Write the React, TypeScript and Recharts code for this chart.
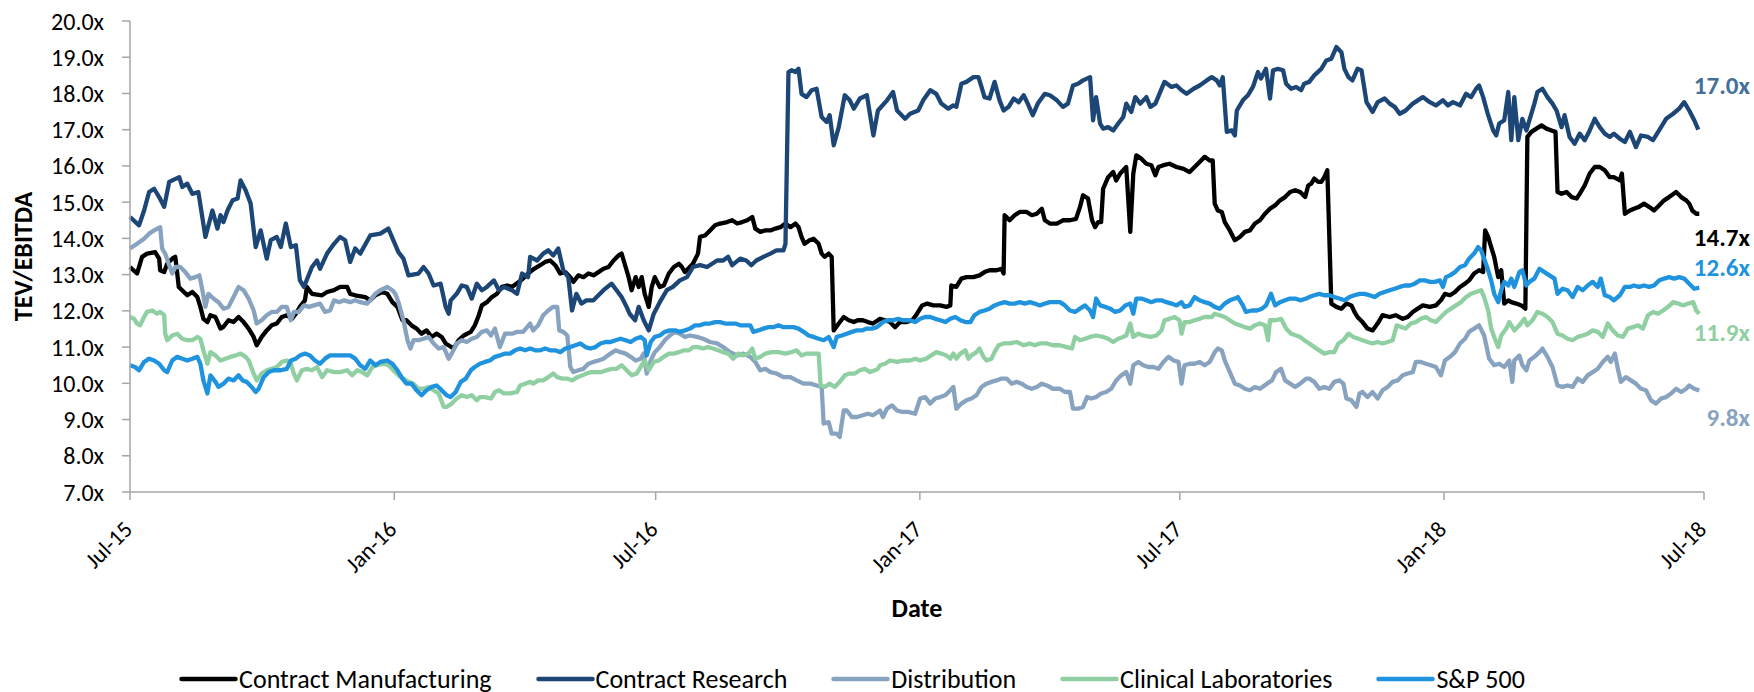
import React from 'react';
import { LineChart, Line, XAxis, YAxis, Legend, ReferenceDot, Label } from 'recharts';

// x = weeks since 1 Jul 2015, y = TEV/EBITDA multiple
type Pt = [number, number];

const contractManufacturing: Pt[] = [
  [0, 13.21], [0.7, 13.03], [1.2, 13.49], [1.7, 13.58], [2.5, 13.62], [2.9, 13.44], [3.0, 13.12], [3.4, 13.07], [3.7, 13.3],
  [4.2, 13.44], [4.5, 13.49], [4.7, 13.03], [4.85, 12.66], [5.7, 12.43], [6.2, 12.52], [6.7, 12.38], [7.0, 12.11], [7.3, 11.78],
  [7.7, 11.69], [8.0, 11.88], [8.5, 11.83], [9.0, 11.51], [9.3, 11.56], [9.8, 11.74], [10.3, 11.69], [10.8, 11.83], [11.3, 11.69],
  [11.8, 11.51], [12.3, 11.28], [12.6, 11.05], [13.1, 11.28], [13.6, 11.46], [14.1, 11.6], [14.6, 11.65], [15.1, 11.83],
  [15.6, 11.88], [16.1, 11.78], [16.5, 11.92], [16.9, 12.11], [17.4, 12.29], [17.6, 12.66], [18.1, 12.47], [19.1, 12.43],
  [19.6, 12.52], [20.3, 12.57], [20.9, 12.66], [21.6, 12.66], [21.9, 12.47], [22.4, 12.43], [23.4, 12.38], [23.9, 12.29],
  [24.4, 12.43], [25.1, 12.52], [25.6, 12.47], [26.1, 12.24], [26.6, 12.11], [27.1, 11.74], [27.5, 11.74], [28.0, 11.6],
  [28.5, 11.51], [29.0, 11.37], [29.5, 11.46], [30.0, 11.28], [30.5, 11.37], [31.0, 11.28],
  [31.4, 11.1], [32.2, 10.96], [32.7, 11.19], [33.2, 11.32], [33.9, 11.42], [34.3, 11.6], [34.7, 11.88], [35.0, 12.15],
  [35.5, 12.24], [36.0, 12.38], [36.5, 12.47], [37.0, 12.66], [37.5, 12.7], [38.0, 12.66], [38.7, 12.8], [39.1, 12.89],
  [39.6, 13.03], [40.2, 13.16], [40.8, 13.26], [41.3, 13.35], [41.8, 13.39], [42.3, 13.26], [42.8, 13.03], [43.3, 13.07],
  [43.8, 12.93], [44.1, 12.8], [44.6, 12.98], [45.1, 12.93], [45.6, 13.03], [46.1, 12.98], [46.6, 13.07], [47.1, 13.16],
  [47.6, 13.21], [48.1, 13.39], [48.6, 13.53], [48.9, 13.58], [49.3, 13.21], [49.6, 12.93], [49.9, 12.57], [50.3, 12.93],
  [50.6, 12.66], [50.9, 12.93], [51.2, 12.47], [51.6, 12.11], [51.9, 12.66], [52.2, 12.93], [52.7, 12.66], [53.1, 12.7],
  [53.6, 13.03], [54.1, 13.21], [54.6, 13.3], [54.9, 13.21], [55.2, 13.07], [56.0, 13.3], [56.5, 13.58], [56.7, 14.04],
  [57.2, 14.08], [57.7, 14.22], [58.2, 14.36], [58.7, 14.41], [59.4, 14.45], [59.9, 14.5], [60.4, 14.41], [60.9, 14.45],
  [61.4, 14.5], [61.9, 14.59], [62.2, 14.27], [62.7, 14.18], [63.2, 14.22], [63.7, 14.22], [64.2, 14.27], [64.7, 14.31],
  [65.2, 14.41], [65.7, 14.31], [66.2, 14.41], [66.5, 14.31], [66.8, 14.04], [67.1, 13.85], [67.6, 13.95], [68.0, 13.99],
  [68.5, 13.85], [68.8, 13.58], [69.1, 13.49], [69.5, 13.58], [69.8, 13.49], [70.0, 11.46], [70.5, 11.65], [71.0, 11.83],
  [71.5, 11.74], [72.0, 11.69], [72.4, 11.74], [72.9, 11.74], [73.4, 11.69], [73.9, 11.65], [74.4, 11.74],
  [74.6, 11.78], [75.1, 11.74], [75.6, 11.69], [76.1, 11.55], [76.6, 11.69], [77.2, 11.69], [77.8, 11.74], [78.2, 11.88],
  [78.8, 12.15], [79.3, 12.2], [79.9, 12.15], [80.6, 12.15], [81.2, 12.11], [81.6, 12.15], [81.7, 12.7], [82.2, 12.66],
  [82.7, 12.89], [83.2, 12.93], [83.9, 12.93], [84.5, 12.98], [85.0, 13.07], [85.5, 13.12], [86.2, 13.12], [86.7, 13.16],
  [86.9, 13.03], [87.0, 14.64], [87.5, 14.5], [88.0, 14.64], [88.5, 14.73], [89.2, 14.73], [89.7, 14.64], [90.2, 14.68],
  [90.7, 14.82], [91.0, 14.5], [91.5, 14.41], [92.2, 14.41], [92.8, 14.5], [93.5, 14.5], [94.1, 14.54], [94.5, 14.87],
  [94.8, 15.19], [95.3, 15.1], [95.7, 14.5], [96.0, 14.31], [96.3, 14.45], [96.6, 14.45], [96.8, 15.37], [97.3, 15.69],
  [97.8, 15.83], [98.1, 15.6], [98.5, 15.79], [99.1, 15.97], [99.5, 14.18], [99.8, 15.79], [100.1, 16.29], [100.6, 16.2],
  [101.1, 16.06], [101.6, 16.02], [102.0, 15.74], [102.3, 15.97], [102.8, 16.02], [103.4, 16.06], [104.1, 15.97],
  [104.8, 15.92], [105.4, 15.83], [105.9, 15.97], [106.4, 16.11], [106.9, 16.25], [107.4, 16.15], [107.7, 16.15],
  [107.9, 14.96], [108.2, 14.77], [108.6, 14.73], [108.9, 14.45], [109.4, 14.22], [109.9, 13.95], [110.4, 14.04],
  [110.9, 14.18], [111.4, 14.22], [111.9, 14.41], [112.4, 14.5], [112.9, 14.68], [113.4, 14.82], [113.9, 14.91],
  [114.4, 15.05], [114.9, 15.14], [115.4, 15.28], [115.9, 15.33], [116.4, 15.28], [116.9, 15.14], [117.2, 15.46],
  [117.5, 15.51], [117.8, 15.65], [118.2, 15.56], [118.5, 15.56], [118.8, 15.69], [119.1, 15.88], [119.5, 12.2],
  [120.0, 12.11], [120.5, 12.06], [121.0, 12.2], [121.5, 12.15], [121.8, 11.97], [122.1, 11.83], [122.6, 11.69],
  [123.1, 11.51], [123.6, 11.46], [124.1, 11.65], [124.6, 11.88], [125.3, 11.83], [125.9, 11.88], [126.6, 11.78],
  [127.1, 11.83], [127.6, 11.97], [128.1, 12.06], [128.6, 12.15], [129.3, 12.11], [129.9, 12.15], [130.4, 12.29],
  [130.8, 12.47], [131.3, 12.43], [131.8, 12.52], [132.3, 12.66], [132.8, 12.75], [133.2, 12.84], [133.7, 13.03],
  [134.2, 13.12], [134.6, 13.07], [134.8, 14.22], [135.1, 14.04], [135.4, 13.76], [135.7, 13.49], [136.1, 12.93],
  [136.4, 13.12], [136.7, 12.2], [137.1, 12.29], [137.4, 12.24], [137.9, 12.2], [138.4, 12.15], [138.8, 12.06],
  [139.0, 16.8], [139.4, 16.94], [139.9, 17.03], [140.4, 17.12], [140.9, 17.03], [141.4, 16.98], [141.8, 16.94],
  [142.0, 15.28], [142.4, 15.23], [142.9, 15.28], [143.4, 15.14], [143.9, 15.1], [144.2, 15.23], [144.7, 15.46],
  [145.2, 15.79], [145.7, 15.97], [146.2, 15.97], [146.7, 15.88], [147.2, 15.69], [147.6, 15.69], [148.2, 15.6],
  [148.4, 15.79], [148.7, 14.68], [149.2, 14.77], [149.6, 14.82], [150.1, 14.87], [150.6, 14.96], [151.1, 14.87],
  [151.6, 14.77], [152.1, 14.91], [152.6, 15.05], [153.1, 15.14], [153.8, 15.28], [154.3, 15.14], [154.8, 15.05],
  [155.1, 14.96], [155.4, 14.77], [155.8, 14.68], [156.1, 14.68],
];

const contractResearch: Pt[] = [
  [0, 14.59], [0.9, 14.36], [1.4, 14.77], [1.9, 15.28], [2.4, 15.37], [2.9, 15.14], [3.4, 14.87], [3.9, 15.56], [4.9, 15.69],
  [5.2, 15.42], [5.7, 15.51], [6.2, 15.23], [6.8, 15.28], [7.5, 14.04], [8.2, 14.77], [8.7, 14.27], [9.0, 14.64], [9.3, 14.45],
  [9.7, 14.77], [10.2, 15.05], [10.7, 15.1], [11.0, 15.6], [11.5, 15.33], [12.0, 14.96], [12.5, 13.76], [13.0, 14.22],
  [13.6, 13.44], [14.0, 13.95], [14.6, 14.04], [15.0, 13.76], [15.5, 14.41], [16.0, 13.76], [16.5, 13.81], [16.9, 12.84],
  [17.3, 12.66], [18.1, 13.21], [18.6, 13.39], [18.9, 13.16], [19.6, 13.58], [20.3, 13.85], [20.9, 14.04], [21.4, 13.95],
  [21.9, 13.35], [22.4, 13.72], [22.9, 13.58], [23.9, 14.08], [24.9, 14.13], [25.7, 14.27], [26.7, 13.62], [27.2, 13.44],
  [27.7, 12.98], [28.7, 13.03], [29.2, 13.21], [29.7, 13.03], [30.2, 12.7], [30.9, 12.75], [31.4, 12.11], [31.7, 11.92],
  [31.9, 12.29], [32.5, 12.47], [33.0, 12.7], [33.5, 12.66], [34.0, 12.34], [34.5, 12.75], [35.0, 12.57], [35.5, 12.66],
  [36.2, 12.84], [36.7, 12.57], [37.2, 12.66], [38.0, 12.57], [38.5, 12.47], [39.0, 13.03], [39.6, 12.93], [39.8, 13.49],
  [40.5, 13.39], [41.1, 13.58], [41.6, 13.67], [42.1, 13.53], [42.6, 13.72], [43.1, 13.12], [43.6, 12.93], [43.97, 12.01],
  [44.4, 12.47], [44.9, 12.2], [45.4, 12.29], [46.1, 12.29], [46.6, 12.43], [47.1, 12.57], [47.9, 12.75], [48.4, 12.57],
  [48.9, 12.38], [49.4, 12.11], [49.7, 11.92], [50.25, 11.74], [50.6, 12.11], [51.1, 11.74], [51.6, 11.46], [52.1, 11.92],
  [52.7, 12.24], [53.4, 12.57], [54.0, 12.66], [54.7, 12.84], [55.4, 12.93], [56.0, 13.21], [56.7, 13.26], [57.4, 13.21],
  [57.9, 13.3], [58.4, 13.39], [59.0, 13.39], [59.5, 13.49], [59.9, 13.26], [60.7, 13.44], [61.3, 13.39], [61.8, 13.26],
  [62.3, 13.39], [63.0, 13.49], [63.7, 13.58], [64.3, 13.67], [65.0, 13.67], [65.2, 13.85], [65.5, 18.59], [65.8, 18.64],
  [66.2, 18.59], [66.5, 18.68], [66.8, 17.99], [67.3, 17.9], [67.8, 18.09], [68.3, 18.13], [68.8, 17.35], [69.3, 17.21],
  [69.6, 17.4], [70.0, 16.57], [70.5, 17.07], [71.1, 17.95], [71.6, 17.81], [72.0, 17.58], [72.6, 17.86],
  [73.3, 17.95], [73.95, 16.84], [74.4, 17.53], [75.3, 17.81], [75.9, 18.04], [76.3, 17.53], [77.1, 17.3], [77.6, 17.44],
  [78.4, 17.53], [78.9, 17.81], [79.6, 18.09], [80.2, 17.99], [80.7, 17.72], [81.4, 17.58], [81.9, 17.67], [82.2, 17.63],
  [82.7, 18.27], [83.2, 18.32], [83.9, 18.45], [84.4, 18.45], [84.7, 18.18], [85.0, 17.9], [85.5, 17.86], [86.0, 18.32],
  [86.5, 17.81], [86.9, 17.53], [87.4, 17.63], [87.9, 17.86], [88.4, 17.76], [88.9, 17.95], [89.3, 17.72], [89.8, 17.4],
  [90.3, 17.72], [91.0, 17.99], [91.5, 17.95], [92.2, 17.81], [92.8, 17.63], [93.3, 17.72], [93.8, 18.22], [94.3, 18.27],
  [94.8, 18.36], [95.5, 18.45], [95.8, 17.26], [96.1, 17.9], [96.5, 17.17], [96.8, 17.03], [97.3, 17.07], [97.8, 16.98],
  [98.3, 17.17], [98.8, 17.35], [99.1, 17.72], [99.6, 17.49], [100.0, 17.9], [100.5, 17.72], [101.1, 17.9], [101.5, 17.63],
  [102.0, 17.72], [102.4, 17.99], [102.9, 18.32], [103.6, 18.18], [104.1, 18.22], [104.6, 18.09], [105.1, 17.99],
  [105.8, 18.13], [106.4, 18.22], [107.1, 18.36], [107.6, 18.45], [108.1, 18.36], [108.4, 18.22], [108.7, 18.45],
  [109.1, 16.94], [109.6, 16.98], [109.9, 16.84], [110.1, 17.53], [110.7, 17.81], [111.2, 17.95], [111.7, 18.18],
  [112.2, 18.59], [112.5, 18.41], [113.0, 18.68], [113.4, 17.86], [113.7, 18.64], [114.2, 18.68], [114.7, 18.64],
  [115.0, 18.27], [115.5, 18.13], [116.0, 18.18], [116.5, 18.09], [116.8, 18.27], [117.3, 18.32], [117.8, 18.5],
  [118.5, 18.68], [119.0, 18.91], [119.5, 18.96], [120.0, 19.28], [120.5, 19.14], [120.8, 18.68], [121.2, 18.45],
  [121.6, 18.36], [122.1, 18.68], [122.5, 18.64], [123.0, 17.76], [123.6, 17.49], [124.1, 17.76], [124.8, 17.86],
  [125.3, 17.72], [125.8, 17.63], [126.3, 17.44], [126.9, 17.53], [127.6, 17.72], [128.1, 17.81], [128.6, 17.9],
  [129.3, 17.76], [129.9, 17.67], [130.6, 17.81], [131.1, 17.67], [131.6, 17.76], [132.3, 17.67], [132.9, 17.99],
  [133.4, 17.9], [133.9, 18.13], [134.2, 18.22], [134.6, 17.9], [135.1, 17.4], [135.6, 16.98], [135.9, 16.84],
  [136.2, 17.17], [136.7, 17.26], [137.1, 18.04], [137.4, 16.71], [137.7, 17.9], [138.1, 16.71], [138.5, 17.3],
  [138.9, 16.98], [139.2, 17.26], [139.7, 17.72], [140.0, 18.04], [140.5, 18.13], [141.0, 17.9], [141.5, 17.72],
  [141.9, 17.53], [142.4, 17.07], [142.7, 17.4], [143.2, 16.8], [143.7, 16.61], [144.2, 16.89], [144.7, 16.71],
  [145.2, 16.98], [145.7, 17.3], [146.2, 17.07], [146.7, 16.89], [147.2, 16.8], [147.6, 16.89], [148.2, 16.75],
  [148.7, 16.66], [149.2, 16.94], [149.8, 16.52], [150.3, 16.84], [151.0, 16.8], [151.5, 16.71], [152.1, 16.98],
  [152.8, 17.3], [153.5, 17.44], [154.1, 17.58], [154.6, 17.76], [155.1, 17.53], [155.6, 17.26], [156.0, 17.0],
];

const distribution: Pt[] = [
  [0, 13.72], [0.7, 13.85], [1.4, 13.99], [1.9, 14.13], [2.4, 14.22], [3.0, 14.31], [3.2, 13.72], [3.5, 13.58], [3.9, 13.26],
  [4.2, 13.03], [4.5, 13.21], [5.0, 13.21], [5.5, 13.07], [6.0, 12.89], [6.5, 12.93], [6.9, 12.98], [7.2, 12.57], [7.5, 12.11],
  [7.8, 12.47], [8.3, 12.34], [8.8, 12.24], [9.3, 12.06], [9.8, 12.11], [10.3, 12.38], [10.8, 12.66], [11.3, 12.57],
  [11.8, 12.34], [12.3, 12.01], [12.6, 11.65], [13.1, 11.74], [13.6, 11.88], [14.1, 11.97], [14.6, 11.97], [15.1, 12.11],
  [15.6, 12.11], [16.0, 11.74], [16.3, 11.97], [16.8, 11.97], [17.3, 12.15], [17.8, 12.11], [18.3, 12.15], [18.9, 12.2],
  [19.4, 11.97], [19.9, 12.01], [20.3, 12.29], [20.8, 12.24], [21.3, 12.29], [21.9, 12.24], [22.4, 12.29], [22.9, 12.24],
  [23.6, 12.2], [23.9, 12.29], [24.4, 12.47], [24.9, 12.57], [25.6, 12.66], [26.1, 12.57], [26.4, 12.47], [26.7, 12.24],
  [27.2, 11.74], [27.6, 11.19], [27.9, 10.96], [28.2, 11.19], [28.7, 11.19], [29.2, 11.23], [29.7, 11.28], [30.2, 11.1],
  [30.7, 10.96], [31.2, 11.0], [31.7, 10.68],
  [32.0, 10.82], [32.5, 11.1], [33.0, 11.19], [33.5, 11.14], [34.0, 11.23], [34.5, 11.28], [35.0, 11.42], [35.5, 11.46],
  [35.9, 11.32], [36.3, 11.51], [36.8, 11.0], [37.3, 11.37], [38.0, 11.37], [38.5, 11.42], [39.1, 11.42], [39.8, 11.65],
  [40.1, 11.46], [40.6, 11.6], [41.1, 11.88], [41.6, 12.01], [42.1, 12.11], [42.5, 12.11], [42.7, 11.46], [43.1, 11.42],
  [43.5, 11.32], [43.8, 10.45], [44.1, 10.31], [44.6, 10.36], [45.1, 10.4], [45.6, 10.54], [46.1, 10.59], [46.6, 10.63],
  [47.1, 10.68], [47.8, 10.82], [48.3, 10.91], [48.8, 10.86], [49.3, 10.82], [49.8, 10.73], [50.3, 10.63], [50.8, 10.68],
  [51.1, 10.82], [51.4, 10.27], [51.8, 10.63], [52.2, 10.86], [52.7, 11.0], [53.2, 11.19], [53.7, 11.32], [54.2, 11.42],
  [54.7, 11.37], [55.2, 11.28], [55.7, 11.32], [56.4, 11.28], [57.0, 11.23], [57.7, 11.14], [58.4, 11.1], [59.0, 11.0],
  [59.7, 10.86], [60.4, 10.77], [61.0, 10.82], [61.7, 10.73], [62.2, 10.59], [62.7, 10.36], [63.2, 10.4], [63.7, 10.31],
  [64.3, 10.27], [65.0, 10.17], [65.7, 10.17], [66.3, 10.08], [67.0, 9.99], [67.7, 9.99], [68.3, 9.94], [68.8, 9.9],
  [69.0, 8.89], [69.5, 8.93], [69.8, 8.61], [70.3, 8.61], [70.6, 8.52], [71.0, 9.25], [71.3, 9.25], [71.8, 9.07],
  [72.3, 9.07], [72.9, 9.12], [73.4, 9.16], [73.9, 9.12], [74.4, 9.21],
  [74.6, 9.25], [74.9, 9.07], [75.3, 9.3], [75.8, 9.39], [76.3, 9.25], [76.8, 9.21], [77.4, 9.21], [78.1, 9.16], [78.6, 9.58],
  [79.1, 9.62], [79.6, 9.44], [80.1, 9.58], [80.6, 9.62], [81.1, 9.67], [81.6, 9.81], [81.9, 9.9], [82.2, 9.3], [82.7, 9.44],
  [83.2, 9.53], [83.7, 9.58], [84.2, 9.67], [84.7, 9.9], [85.2, 9.99], [85.7, 10.04], [86.2, 10.08], [86.7, 10.13],
  [87.2, 10.13], [87.7, 9.99], [88.2, 10.04], [88.7, 9.99], [89.2, 9.9], [89.7, 9.85], [90.2, 9.9], [90.7, 9.99],
  [91.2, 9.94], [91.8, 9.85], [92.5, 9.85], [93.0, 9.76], [93.5, 9.76], [93.8, 9.3], [94.3, 9.3], [94.8, 9.35], [95.2, 9.62],
  [95.6, 9.58], [96.1, 9.62], [96.6, 9.72], [97.1, 9.76], [97.6, 9.85], [98.1, 10.08], [98.6, 10.22], [99.1, 10.31],
  [99.5, 9.99], [99.8, 10.5], [100.3, 10.59], [100.8, 10.5], [101.3, 10.45], [101.8, 10.45], [102.3, 10.4], [102.8, 10.59],
  [103.3, 10.73], [103.8, 10.63], [104.3, 10.59], [104.6, 9.99], [104.9, 10.5], [105.4, 10.54], [105.9, 10.54],
  [106.4, 10.59], [106.9, 10.5], [107.4, 10.59], [107.9, 10.86], [108.2, 10.96], [108.6, 10.91], [108.9, 10.63],
  [109.4, 10.31], [109.9, 9.99], [110.4, 9.94], [110.9, 9.85], [111.4, 9.81], [111.9, 9.9], [112.4, 9.85], [113.1, 9.99],
  [113.6, 10.08], [114.0, 10.31], [114.5, 10.4], [114.9, 10.08], [115.4, 9.99], [115.9, 9.9], [116.4, 9.99], [117.0, 10.13],
  [117.3, 10.13], [117.8, 10.04], [118.3, 9.85], [118.8, 9.9], [119.3, 9.85], [119.8, 10.04], [120.3, 10.08], [120.7, 9.99],
  [121.0, 9.58], [121.5, 9.53], [122.0, 9.35], [122.3, 9.72], [122.6, 9.76], [123.1, 9.62], [123.6, 9.76], [124.1, 9.58],
  [124.6, 9.81], [125.1, 9.9], [125.6, 10.04], [126.1, 10.08], [126.6, 10.22], [127.1, 10.27], [127.6, 10.31],
  [127.9, 10.59], [128.4, 10.59], [128.9, 10.54], [129.4, 10.5], [129.9, 10.45], [130.4, 10.22], [130.8, 10.63],
  [131.3, 10.73], [131.8, 10.86], [132.3, 11.1], [132.8, 11.23], [133.2, 11.42], [133.7, 11.51], [134.2, 11.6],
  [134.7, 11.32], [135.2, 10.68], [135.7, 10.5], [136.2, 10.54], [136.7, 10.45], [137.2, 10.63], [137.5, 10.04],
  [137.7, 10.63], [138.2, 10.77], [138.5, 10.5], [138.9, 10.36], [139.2, 10.63], [139.7, 10.73], [140.2, 10.86],
  [140.5, 10.96], [141.0, 10.73], [141.5, 10.45], [142.0, 9.94], [142.5, 9.9], [143.0, 9.94], [143.5, 9.9], [144.0, 10.13],
  [144.5, 10.04], [145.0, 10.22], [145.5, 10.31], [146.0, 10.4], [146.5, 10.59], [147.0, 10.73], [147.3, 10.59],
  [147.7, 10.82], [148.0, 10.4], [148.3, 10.04], [148.8, 10.17], [149.3, 10.08], [149.8, 9.99], [150.3, 9.85],
  [150.8, 9.81], [151.3, 9.53], [151.8, 9.44], [152.3, 9.58], [152.8, 9.62], [153.3, 9.72], [153.8, 9.85], [154.3, 9.76],
  [154.8, 9.85], [155.1, 9.94], [155.6, 9.85], [156.1, 9.8],
];

const clinicalLabs: Pt[] = [
  [0, 11.83], [0.4, 11.78], [0.7, 11.65], [1.0, 11.6], [1.4, 11.83], [1.7, 11.97], [2.2, 12.01], [2.7, 11.92], [3.0, 11.97],
  [3.4, 11.88], [3.5, 11.37], [3.7, 11.19], [4.2, 11.32], [4.7, 11.37], [5.2, 11.23], [5.7, 11.19], [6.2, 11.19], [6.7, 11.28],
  [7.0, 11.23], [7.3, 10.91], [7.7, 10.54], [8.0, 10.86], [8.5, 10.77], [9.0, 10.63], [9.5, 10.68], [10.0, 10.73],
  [10.5, 10.77], [11.0, 10.82], [11.5, 10.73], [11.8, 10.63], [12.3, 10.27], [12.6, 10.08], [13.1, 10.27], [13.6, 10.36],
  [14.1, 10.4], [14.6, 10.45], [15.1, 10.59], [15.6, 10.63], [16.0, 10.54], [16.3, 10.27], [16.6, 10.08], [17.1, 10.36],
  [17.6, 10.4], [18.1, 10.36], [18.6, 10.45], [19.1, 10.17], [19.6, 10.36], [20.3, 10.31], [20.9, 10.31], [21.6, 10.36],
  [22.1, 10.22], [22.6, 10.36], [23.1, 10.31], [23.6, 10.22], [24.1, 10.45], [24.6, 10.5], [25.2, 10.54], [25.7, 10.5],
  [26.2, 10.36], [26.7, 10.22], [27.2, 10.13], [27.7, 10.04], [28.2, 9.99], [28.7, 9.85], [29.2, 9.85], [29.7, 9.9],
  [30.2, 9.81], [30.7, 9.72], [31.2, 9.35],
  [31.5, 9.35], [32.0, 9.44], [32.5, 9.58], [33.0, 9.67], [33.5, 9.62], [34.0, 9.67], [34.5, 9.53], [34.8, 9.62], [35.3, 9.62],
  [35.9, 9.58], [36.3, 9.76], [36.7, 9.81], [37.2, 9.72], [37.8, 9.72], [38.5, 9.76], [38.8, 9.94], [39.3, 9.99], [39.8, 10.04],
  [40.1, 9.99], [40.6, 10.08], [41.1, 10.08], [41.6, 10.17], [42.1, 10.27], [42.5, 10.17], [43.0, 10.13], [43.5, 10.13],
  [44.0, 10.08], [44.5, 10.17], [45.0, 10.22], [45.4, 10.27], [45.9, 10.31], [46.4, 10.31], [46.9, 10.31], [47.4, 10.36],
  [47.9, 10.4], [48.4, 10.4], [48.9, 10.5], [49.4, 10.36], [49.9, 10.22], [50.4, 10.27], [50.9, 10.5], [51.2, 10.63],
  [51.6, 10.36], [52.1, 10.59], [52.6, 10.63], [53.1, 10.73], [53.6, 10.82], [54.1, 10.82], [54.6, 10.86], [55.1, 10.91],
  [55.6, 10.91], [56.0, 11.0], [56.5, 11.0], [57.0, 10.96], [57.5, 11.0], [58.0, 10.96], [58.5, 10.91], [59.0, 10.86],
  [59.5, 10.82], [60.0, 10.68], [60.5, 10.82], [61.0, 10.77], [61.5, 10.82], [61.9, 10.96], [62.2, 10.68], [62.7, 10.73],
  [63.2, 10.82], [63.8, 10.86], [64.5, 10.86], [65.2, 10.82], [65.8, 10.86], [66.3, 10.91], [66.8, 10.77], [67.3, 10.82],
  [67.8, 10.82], [68.5, 10.82], [68.7, 9.94], [69.1, 9.9], [69.6, 9.99], [70.1, 9.9], [70.6, 10.04], [71.1, 10.22],
  [71.6, 10.27], [72.1, 10.27], [72.6, 10.36], [73.1, 10.4], [73.6, 10.31], [74.1, 10.36], [74.4, 10.4],
  [74.6, 10.5], [75.1, 10.54], [75.6, 10.63], [76.3, 10.59], [76.9, 10.63], [77.6, 10.63], [78.1, 10.68], [78.6, 10.63],
  [79.2, 10.68], [79.7, 10.77], [80.2, 10.86], [80.7, 10.82], [81.2, 10.77], [81.6, 10.68], [81.9, 10.82], [82.2, 10.68],
  [82.6, 10.82], [83.1, 10.91], [83.4, 10.68], [83.7, 10.77], [84.2, 10.86], [84.5, 10.96], [84.9, 10.73], [85.2, 10.63],
  [85.7, 10.68], [86.0, 10.86], [86.4, 11.05], [86.9, 11.1], [87.5, 11.1], [88.2, 11.14], [88.9, 11.05], [89.5, 11.1],
  [90.0, 11.05], [90.5, 11.1], [91.2, 11.1], [91.8, 11.05], [92.5, 11.05], [93.2, 11.0], [93.7, 10.96], [94.0, 11.28],
  [94.5, 11.19], [95.0, 11.23], [95.5, 11.28], [96.1, 11.32], [96.8, 11.28], [97.3, 11.23], [97.8, 11.14], [98.3, 11.23],
  [98.8, 11.28], [99.1, 11.32], [99.5, 11.65], [99.8, 11.28], [100.3, 11.37], [100.8, 11.32], [101.5, 11.28],
  [102.1, 11.32], [102.6, 11.46], [102.9, 11.74], [103.4, 11.78], [103.9, 11.83], [104.4, 11.74], [104.6, 11.37],
  [104.9, 11.69], [105.4, 11.69], [105.9, 11.74], [106.4, 11.78], [106.9, 11.83], [107.6, 11.83], [107.9, 11.92],
  [108.4, 11.88], [108.9, 11.83], [109.4, 11.74], [109.9, 11.65], [110.4, 11.6], [110.9, 11.55], [111.4, 11.51],
  [111.9, 11.6], [112.4, 11.65], [112.9, 11.6], [113.2, 11.19], [113.4, 11.74], [114.0, 11.74], [114.5, 11.78],
  [115.0, 11.51], [115.5, 11.37], [116.0, 11.32], [116.4, 11.28], [116.8, 11.19], [117.3, 11.1], [117.8, 11.0],
  [118.3, 10.91], [118.8, 10.82], [119.3, 10.86], [119.8, 10.86], [120.2, 11.1], [120.7, 11.19], [121.2, 11.37],
  [121.7, 11.28], [122.2, 11.23], [122.6, 11.19], [123.1, 11.14], [123.6, 11.1], [124.1, 11.14], [124.6, 11.1],
  [125.1, 11.14], [125.6, 11.19], [126.0, 11.6], [126.5, 11.55], [126.9, 11.51], [127.4, 11.65], [127.9, 11.69],
  [128.4, 11.78], [128.9, 11.83], [129.4, 11.74], [129.9, 11.69], [130.4, 11.83], [130.9, 11.97], [131.4, 12.06],
  [131.9, 12.15], [132.4, 12.24], [132.9, 12.38], [133.4, 12.47], [133.9, 12.52], [134.4, 12.57], [134.7, 12.38],
  [135.1, 12.01], [135.4, 11.51], [135.7, 11.28], [136.1, 11.0], [136.4, 11.32], [136.9, 11.51], [137.2, 11.69],
  [137.7, 11.46], [138.2, 11.6], [138.7, 11.78], [139.0, 11.6], [139.5, 11.74], [140.0, 11.97], [140.5, 11.92],
  [141.0, 11.83], [141.5, 11.69], [142.0, 11.37], [142.5, 11.32], [143.0, 11.23], [143.5, 11.19], [144.0, 11.28],
  [144.5, 11.32], [145.0, 11.37], [145.5, 11.46], [146.0, 11.42], [146.5, 11.28], [147.0, 11.65], [147.5, 11.46],
  [148.0, 11.32], [148.5, 11.28], [149.0, 11.51], [149.5, 11.55], [150.0, 11.6], [150.5, 11.51], [151.0, 11.88],
  [151.5, 11.97], [152.0, 11.92], [152.5, 12.01], [153.0, 12.11], [153.5, 12.24], [154.0, 12.2], [154.5, 12.15],
  [155.0, 12.2], [155.5, 12.24], [155.8, 12.01], [156.1, 11.92],
];

const sp500: Pt[] = [
  [0, 10.5], [0.5, 10.45], [0.9, 10.36], [1.4, 10.59], [1.9, 10.68], [2.4, 10.63], [2.9, 10.54], [3.4, 10.36], [3.7, 10.31],
  [4.2, 10.63], [4.7, 10.73], [5.2, 10.68], [5.7, 10.63], [6.2, 10.68], [6.7, 10.73], [7.0, 10.54], [7.3, 10.08], [7.7, 9.72],
  [8.0, 10.22], [8.5, 10.04], [8.8, 9.9], [9.3, 9.99], [9.8, 10.13], [10.3, 10.08], [10.8, 10.22], [11.2, 10.08], [11.6, 10.04],
  [12.1, 9.9], [12.5, 9.76], [12.8, 9.85], [13.3, 10.17], [13.8, 10.31], [14.3, 10.36], [15.0, 10.36], [15.6, 10.4],
  [16.0, 10.63], [16.5, 10.68], [16.9, 10.77], [17.4, 10.82], [17.9, 10.77], [18.4, 10.63], [18.9, 10.54], [19.4, 10.68],
  [19.9, 10.77], [20.6, 10.77], [21.3, 10.77], [21.9, 10.77], [22.4, 10.68], [22.9, 10.5], [23.4, 10.4], [23.9, 10.63],
  [24.4, 10.5], [24.9, 10.59], [25.6, 10.63], [26.1, 10.54], [26.6, 10.36], [27.1, 10.13], [27.5, 9.99], [28.0, 9.99],
  [28.5, 9.81], [29.0, 9.67], [29.5, 9.81], [30.0, 9.9], [30.5, 9.94], [31.0, 9.81], [31.5, 9.67],
  [31.9, 9.62], [32.4, 9.76], [32.9, 10.04], [33.4, 10.13], [33.9, 10.36], [34.3, 10.45], [34.8, 10.54], [35.3, 10.59],
  [35.8, 10.63], [36.3, 10.73], [36.8, 10.77], [37.3, 10.82], [37.8, 10.82], [38.3, 10.91], [38.8, 10.96], [39.3, 10.91],
  [39.8, 10.96], [40.3, 10.91], [40.8, 10.91], [41.3, 10.96], [41.8, 10.91], [42.3, 10.91], [42.8, 10.86], [43.3, 10.96],
  [43.8, 11.0], [44.3, 11.05], [44.8, 11.1], [45.3, 11.0], [45.8, 10.96], [46.3, 11.0], [46.8, 11.1], [47.3, 11.14],
  [47.8, 11.14], [48.3, 11.19], [48.8, 11.23], [49.3, 11.19], [49.8, 11.14], [50.3, 11.23], [50.8, 11.28], [51.2, 11.19],
  [51.4, 10.77], [51.8, 11.14], [52.2, 11.28], [52.7, 11.32], [53.2, 11.42], [53.7, 11.46], [54.2, 11.46], [54.7, 11.42],
  [55.2, 11.46], [55.7, 11.51], [56.2, 11.6], [56.7, 11.6], [57.2, 11.65], [57.7, 11.65], [58.2, 11.69], [58.7, 11.69],
  [59.2, 11.65], [59.7, 11.65], [60.2, 11.65], [60.7, 11.6], [61.2, 11.6], [61.7, 11.6], [62.0, 11.42], [62.5, 11.46],
  [63.0, 11.51], [63.5, 11.55], [64.0, 11.55], [64.5, 11.6], [65.0, 11.55], [65.5, 11.55], [66.0, 11.55], [66.5, 11.51],
  [67.0, 11.42], [67.5, 11.32], [68.0, 11.28], [68.5, 11.23], [69.0, 11.19], [69.5, 11.28], [70.0, 11.0], [70.3, 11.28],
  [70.8, 11.32], [71.3, 11.37], [71.8, 11.42], [72.3, 11.46], [72.8, 11.46], [73.3, 11.51], [73.8, 11.51], [74.3, 11.55],
  [74.9, 11.69], [75.4, 11.74], [75.9, 11.74], [76.4, 11.78], [76.9, 11.74], [77.6, 11.74], [78.1, 11.69], [78.6, 11.78],
  [79.1, 11.83], [79.6, 11.83], [80.1, 11.78], [80.6, 11.74], [81.1, 11.69], [81.6, 11.78], [82.1, 11.83], [82.6, 11.74],
  [83.1, 11.69], [83.6, 11.69], [84.0, 11.88], [84.5, 11.97], [85.0, 12.01], [85.5, 12.06], [86.0, 12.15], [86.5, 12.2],
  [87.0, 12.24], [87.5, 12.2], [88.0, 12.2], [88.5, 12.24], [89.0, 12.2], [89.5, 12.24], [90.0, 12.2], [90.5, 12.15],
  [91.0, 12.2], [91.5, 12.24], [92.0, 12.24], [92.5, 12.24], [93.0, 12.15], [93.5, 12.01], [94.0, 11.97], [94.5, 12.06],
  [95.0, 12.15], [95.5, 12.01], [95.8, 11.83], [96.1, 12.34], [96.5, 12.15], [97.0, 12.11], [97.5, 12.06], [98.0, 11.97],
  [98.5, 12.01], [99.0, 12.15], [99.5, 12.2], [99.8, 11.92], [100.1, 12.34], [100.6, 12.34], [101.1, 12.29], [101.6, 12.24],
  [102.1, 12.29], [102.6, 12.29], [103.1, 12.24], [103.6, 12.2], [104.1, 12.15], [104.6, 12.24], [104.9, 12.11],
  [105.4, 12.15], [105.9, 12.38], [106.4, 12.29], [106.9, 12.24], [107.4, 12.2], [107.9, 12.11], [108.4, 12.06],
  [108.9, 12.2], [109.4, 12.29], [109.9, 12.34], [110.2, 12.38], [110.7, 12.15], [111.0, 11.97], [111.6, 12.01],
  [112.1, 12.01], [112.6, 12.06], [113.0, 12.15], [113.5, 12.47], [113.9, 12.15], [114.4, 12.24], [114.9, 12.29],
  [115.4, 12.34], [115.9, 12.34], [116.4, 12.29], [117.0, 12.34], [117.3, 12.38], [117.8, 12.43], [118.3, 12.47],
  [118.8, 12.43], [119.3, 12.43], [119.8, 12.38], [120.3, 12.34], [120.8, 12.29], [121.3, 12.38], [121.8, 12.43],
  [122.3, 12.47], [122.8, 12.47], [123.3, 12.43], [123.8, 12.38], [124.3, 12.47], [124.8, 12.52], [125.3, 12.57],
  [125.8, 12.61], [126.3, 12.66], [126.8, 12.7], [127.3, 12.7], [127.8, 12.75], [128.3, 12.84], [128.8, 12.84],
  [129.3, 12.8], [129.8, 12.8], [130.3, 12.84], [130.6, 12.66], [130.9, 12.93], [131.3, 12.98], [131.8, 13.07],
  [132.3, 13.21], [132.8, 13.26], [133.2, 13.44], [133.7, 13.58], [134.1, 13.76], [134.4, 13.67], [134.7, 13.44],
  [135.1, 13.12], [135.4, 12.84], [135.7, 12.47], [136.1, 12.24], [136.4, 12.57], [136.7, 12.8], [137.1, 12.7],
  [137.4, 12.89], [137.7, 12.66], [138.2, 13.07], [138.5, 13.12], [138.9, 12.7], [139.2, 12.8], [139.7, 12.89],
  [140.2, 13.16], [140.7, 13.07], [141.2, 12.98], [141.7, 12.89], [142.0, 12.47], [142.5, 12.61], [143.0, 12.57],
  [143.5, 12.38], [144.0, 12.66], [144.5, 12.57], [145.0, 12.7], [145.5, 12.8], [146.0, 12.66], [146.3, 12.89],
  [146.7, 12.43], [147.2, 12.38], [147.6, 12.29], [148.2, 12.43], [148.7, 12.66], [149.2, 12.66], [149.6, 12.7],
  [150.1, 12.66], [150.6, 12.7], [151.1, 12.66], [151.6, 12.7], [152.1, 12.84], [152.6, 12.89], [153.1, 12.93],
  [153.6, 12.89], [154.1, 12.93], [154.6, 12.89], [155.1, 12.75], [155.6, 12.61], [156.1, 12.64],
];

const seriesNames = ['Contract Manufacturing', 'Contract Research', 'Distribution', 'Clinical Laboratories', 'S&P 500'];
const seriesColors = ['#000000', '#1c4676', '#88a3bf', '#8fcfa1', '#1f93dd'];
const seriesPoints = [contractManufacturing, contractResearch, distribution, clinicalLabs, sp500];

// Jul-15 .. Jul-18 expressed in weeks since 1 Jul 2015
const xTickWeeks = [0, 26.29, 52.29, 78.57, 104.43, 130.71, 156.57];
const xTickLabels = ['Jul-15', 'Jan-16', 'Jul-16', 'Jan-17', 'Jul-17', 'Jan-18', 'Jul-18'];
const yTicks = [7, 8, 9, 10, 11, 12, 13, 14, 15, 16, 17, 18, 19, 20];

// latest multiples written at the right edge (y = where the label sits)
const endLabels = ['17.0x', '14.7x', '12.6x', '11.9x', '9.8x'];
const endLabelY = [18.23, 14.03, 13.2, 11.41, 9.06];
const endLabelColors = ['#42709b', '#000000', '#1f93dd', '#8fcfa1', '#88a3bf'];

const FONT = "Calibri, Carlito, Lato, 'Liberation Sans', sans-serif";
const AXIS_GREY = '#a6a6a6';

const toRows = (pts: Pt[]) => pts.map(([w, v]) => ({ w, v }));

function XTick(props: any) {
  const { x, y, payload } = props;
  const i = xTickWeeks.indexOf(payload.value);
  const ax = x - 2;
  const ay = y + 25;
  return (
    <text
      x={ax}
      y={ay}
      transform={`rotate(-45, ${ax}, ${ay})`}
      textAnchor="end"
      dominantBaseline="central"
      fontFamily={FONT}
      fontSize={23}
      fill="#000"
    >
      {xTickLabels[i]}
    </text>
  );
}

function renderLegend() {
  return (
    <div
      style={{
        display: 'flex',
        justifyContent: 'center',
        alignItems: 'center',
        gap: 44,
        height: 26,
        fontFamily: FONT,
        fontSize: 26,
        color: '#000',
        whiteSpace: 'nowrap',
      }}
    >
      {seriesNames.map((name, i) => (
        <div key={name} style={{ display: 'flex', alignItems: 'center' }}>
          <svg width={59} height={8} style={{ marginRight: 1 }}>
            <line x1={2.5} y1={4} x2={56.5} y2={4} stroke={seriesColors[i]} strokeWidth={4.5} strokeLinecap="round" />
          </svg>
          <span>{name}</span>
        </div>
      ))}
    </div>
  );
}

export default function App() {
  return (
    <div style={{ width: 1754, height: 692, background: '#fff' }}>
      <style>{'body{margin:0;background:#fff}'}</style>
      <LineChart width={1754} height={692} margin={{ top: 21, right: 50, bottom: 0, left: 0 }}>
        <XAxis
          type="number"
          dataKey="w"
          domain={[0, 156.57]}
          ticks={xTickWeeks}
          interval={0}
          tick={<XTick />}
          tickSize={8}
          tickMargin={0}
          height={174}
          axisLine={{ stroke: AXIS_GREY, strokeWidth: 1.5 }}
          tickLine={{ stroke: AXIS_GREY, strokeWidth: 1.5 }}
        >
          <Label
            content={(p: any) => {
              const vb = p.viewBox;
              return (
                <text
                  x={vb.x + vb.width / 2}
                  y={vb.y + 116}
                  textAnchor="middle"
                  dominantBaseline="central"
                  fontFamily={FONT}
                  fontSize={26}
                  fontWeight={700}
                  fill="#000"
                >
                  Date
                </text>
              );
            }}
          />
        </XAxis>
        <YAxis
          type="number"
          domain={[7, 20]}
          ticks={yTicks}
          interval={0}
          width={130}
          tickSize={8}
          tickMargin={18}
          tickFormatter={(v: number) => `${v.toFixed(1)}x`}
          tick={{ fontFamily: FONT, fontSize: 24, fill: '#000' }}
          axisLine={{ stroke: AXIS_GREY, strokeWidth: 1.5 }}
          tickLine={{ stroke: AXIS_GREY, strokeWidth: 1.5 }}
        >
          <Label
            content={(p: any) => {
              const vb = p.viewBox;
              const cx = vb.x + 23;
              const cy = vb.y + vb.height / 2;
              return (
                <text
                  x={cx}
                  y={cy}
                  transform={`rotate(-90, ${cx}, ${cy})`}
                  textAnchor="middle"
                  dominantBaseline="central"
                  fontFamily={FONT}
                  fontSize={26}
                  fontWeight={700}
                  fill="#000"
                >
                  TEV/EBITDA
                </text>
              );
            }}
          />
        </YAxis>
        <Legend verticalAlign="bottom" content={renderLegend} />
        {seriesPoints.map((pts, i) => (
          <Line
            key={seriesNames[i]}
            name={seriesNames[i]}
            data={toRows(pts)}
            dataKey="v"
            type="linear"
            stroke={seriesColors[i]}
            strokeWidth={4.3}
            strokeLinejoin="round"
            dot={false}
            activeDot={false}
            isAnimationActive={false}
          />
        ))}
        {endLabels.map((text, i) => (
          <ReferenceDot
            key={text}
            x={156.57}
            y={endLabelY[i]}
            r={0}
            ifOverflow="visible"
            shape={(p: any) => (
              <text
                x={p.cx + 46}
                y={p.cy}
                textAnchor="end"
                dominantBaseline="central"
                fontFamily={FONT}
                fontSize={25}
                fontWeight={700}
                fill={endLabelColors[i]}
              >
                {text}
              </text>
            )}
          />
        ))}
      </LineChart>
    </div>
  );
}
